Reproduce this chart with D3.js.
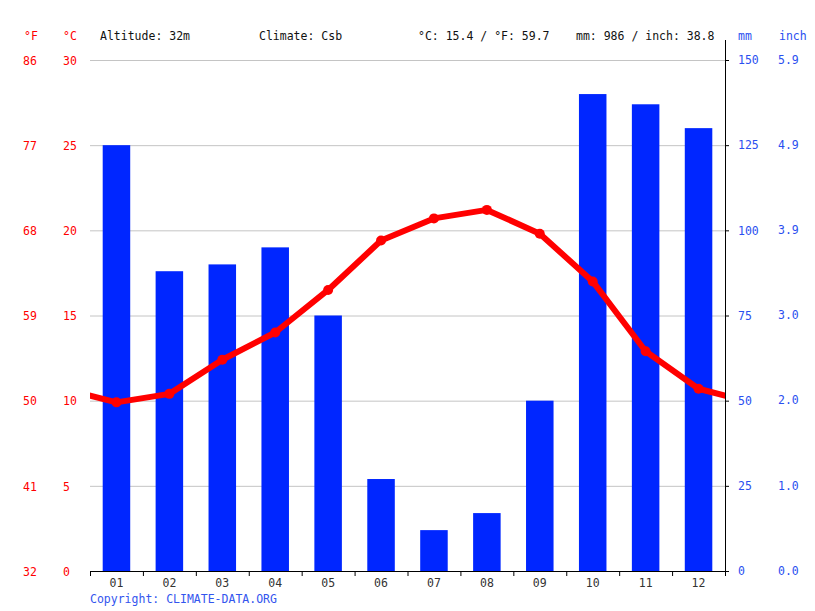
<!DOCTYPE html>
<html>
<head>
<meta charset="utf-8">
<script src="https://cdn.jsdelivr.net/npm/d3@7"></script>
<style>
  body { margin: 0; background: #fff; }
  text { font-family: "DejaVu Sans Mono", monospace; font-size: 11.5px; }
</style>
</head>
<body>
<svg id="chart" width="815" height="611"></svg>
<script>
const months = ["01", "02", "03", "04", "05", "06", "07", "08", "09", "10", "11", "12"];
const precipMm = [125, 88, 90, 95, 75, 27, 12, 17, 50, 140, 137, 130];
const tempC = [9.9, 10.4, 12.4, 14.0, 16.5, 19.4, 20.7, 21.2, 19.8, 17.0, 12.9, 10.7];
const tempTicks = [0, 5, 10, 15, 20, 25, 30];
const mmTicks = [0, 25, 50, 75, 100, 125, 150];
const headerTexts = ["Altitude: 32m", "Climate: Csb", "°C: 15.4 / °F: 59.7", "mm: 986 / inch: 38.8"];

const svg = d3.select("#chart");
const plotLeft = 90, plotRight = 725, plotTop = 60, plotBottom = 571;
const red = "#ff0000", blue = "#0026ff", labelBlue = "#2a4ff0";

const x = d3.scaleBand().domain(months).range([plotLeft, plotRight]).paddingInner(0.48).paddingOuter(0.24);
const xi = d3.scaleLinear().domain([0, 12]).range([plotLeft, plotRight]);
const yT = d3.scaleLinear().domain([0, 30]).range([plotBottom, plotTop]);
const yP = d3.scaleLinear().domain([0, 150]).range([plotBottom, plotTop]);

// grid
svg.append("g")
  .selectAll("line")
  .data(tempTicks.slice(1))
  .enter()
  .append("line")
  .attr("x1", plotLeft).attr("x2", plotRight)
  .attr("y1", d => yT(d) + 0.5).attr("y2", d => yT(d) + 0.5)
  .attr("stroke", "#c4c4c4").attr("stroke-width", 1);

// bars
svg.append("g")
  .selectAll("rect")
  .data(precipMm)
  .enter()
  .append("rect")
  .attr("x", (d, i) => x(months[i]))
  .attr("width", x.bandwidth())
  .attr("y", d => yP(d))
  .attr("height", d => plotBottom - yP(d))
  .attr("fill", blue);

// temperature line, wrapped Dec/Jan at the edges and clipped
svg.append("clipPath").attr("id", "plot")
  .append("rect").attr("x", plotLeft).attr("y", 0).attr("width", plotRight - plotLeft).attr("height", plotBottom);
const linePts = [[-0.5, tempC[11]]]
  .concat(tempC.map((d, i) => [i + 0.5, d]))
  .concat([[12.5, tempC[0]]]);
svg.append("path")
  .datum(linePts)
  .attr("clip-path", "url(#plot)")
  .attr("fill", "none")
  .attr("stroke", red)
  .attr("stroke-width", 6)
  .attr("stroke-linejoin", "round")
  .attr("d", d3.line().x(d => xi(d[0])).y(d => yT(d[1])));
svg.append("g")
  .selectAll("circle")
  .data(tempC)
  .enter()
  .append("circle")
  .attr("cx", (d, i) => xi(i + 0.5))
  .attr("cy", d => yT(d))
  .attr("r", 5)
  .attr("fill", red);

// bottom axis
const xAxis = svg.append("g").attr("transform", `translate(0,${plotBottom})`)
  .call(d3.axisBottom(xi).tickValues(d3.range(13)).tickSize(5).tickFormat("").tickSizeOuter(0));
xAxis.select(".domain").attr("d", `M${plotLeft},0.5H${plotRight + 4}`);
xAxis.selectAll("line, path").attr("stroke", "#000");
const xLabels = svg.append("g").attr("transform", `translate(0,${plotBottom})`)
  .call(d3.axisBottom(x).tickSize(0).tickPadding(8));
xLabels.select(".domain").remove();
xLabels.selectAll("text").attr("fill", "#333").style("font-family", "DejaVu Sans Mono").style("font-size", "11.5px");

// right axis (mm)
const yAxis = svg.append("g").attr("transform", `translate(${plotRight},0)`)
  .call(d3.axisRight(yP).tickValues(mmTicks).tickSize(4).tickPadding(9));
yAxis.select(".domain").remove();
yAxis.selectAll("line").attr("stroke", "#000");
yAxis.selectAll("text").attr("fill", labelBlue).style("font-family", "DejaVu Sans Mono").style("font-size", "11.5px");
svg.append("line")
  .attr("x1", plotRight + 0.5).attr("x2", plotRight + 0.5)
  .attr("y1", 40).attr("y2", plotBottom + 4)
  .attr("stroke", "#000");

// inch labels
svg.append("g")
  .selectAll("text")
  .data(mmTicks)
  .enter()
  .append("text")
  .attr("x", 778)
  .attr("y", d => yP(d))
  .attr("dy", "0.32em")
  .attr("fill", labelBlue)
  .text(d => (d / 25.4).toFixed(1));

// left labels (°C and °F)
svg.append("g")
  .selectAll("text")
  .data(tempTicks)
  .enter()
  .append("text")
  .attr("x", 63)
  .attr("y", d => yT(d) + 1)
  .attr("dy", "0.32em")
  .attr("fill", red)
  .text(d => d);
svg.append("g")
  .selectAll("text")
  .data(tempTicks)
  .enter()
  .append("text")
  .attr("x", 23)
  .attr("y", d => yT(d) + 1)
  .attr("dy", "0.32em")
  .attr("fill", red)
  .text(d => Math.round(d * 9 / 5 + 32));

// header
const header = [
  { t: "°F", x: 24, c: red },
  { t: "°C", x: 63, c: red },
  { t: headerTexts[0], x: 100, c: "#111" },
  { t: headerTexts[1], x: 259, c: "#111" },
  { t: headerTexts[2], x: 418, c: "#111" },
  { t: headerTexts[3], x: 576, c: "#111" },
  { t: "mm", x: 738, c: labelBlue },
  { t: "inch", x: 779, c: labelBlue }
];
svg.append("g")
  .selectAll("text")
  .data(header)
  .enter()
  .append("text")
  .attr("x", d => d.x)
  .attr("y", 40)
  .attr("fill", d => d.c)
  .text(d => d.t);

svg.append("text")
  .attr("x", 90)
  .attr("y", 603)
  .attr("fill", "#3355ee")
  .text("Copyright: CLIMATE-DATA.ORG");
</script>
</body>
</html>
